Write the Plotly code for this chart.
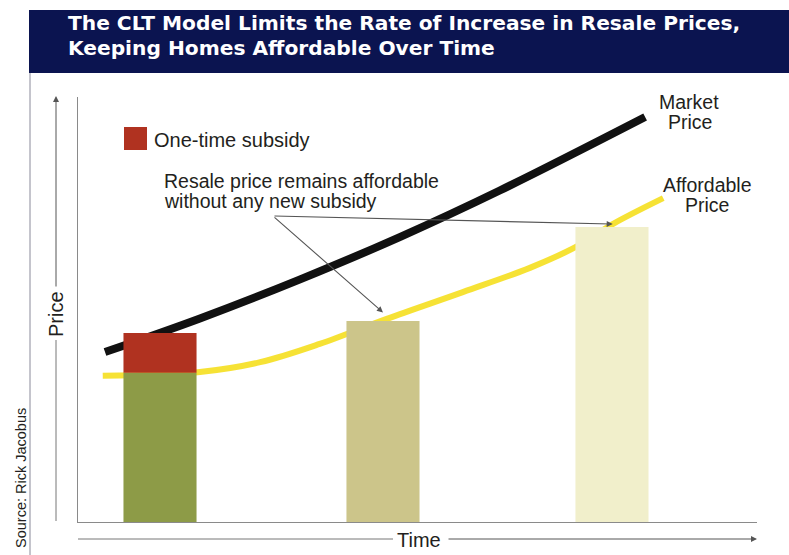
import plotly.graph_objects as go

# ---------------- data ----------------
bar_time = [1, 3.96, 7]
bar_value = [35.1, 47.3, 69.4]
bar_colors = ["#8d9b47", "#ccc58a", "#f1efcb"]
subsidy_time = [1]
subsidy_base = [35.1]
subsidy_value = [9.4]

market_time = [0.27, 1.53, 2.86, 4.19, 5.51, 7.44]
market_price = [40.0, 47.9, 57.1, 67.1, 78.0, 95.3]

afford_time = [0.24, 1.53, 2.33, 3.12, 4.01, 5.02, 5.91, 6.54, 7.01, 7.68]
afford_price = [34.4, 35.3, 37.6, 41.9, 47.8, 54.1, 59.8, 64.9, 70.1, 76.2]

title_lines = ["The CLT Model Limits the Rate of Increase in Resale Prices,",
               "Keeping Homes Affordable Over Time"]
note_lines = ["Resale price remains affordable", "without any new subsidy"]

# ---------------- layout geometry ----------------
W, H = 789, 555
L, R, T, B = 78, 32, 97, 33
PW, PH = W - L - R, H - T - B
XR = [-0.0886, 8.925]
YR = [0, 100]


def px(x):
    return (x - L) / PW


def py(y):
    return (H - B - y) / PH


FONT = "Liberation Sans, Arial, sans-serif"
TFONT = "DejaVu Sans, Liberation Sans, sans-serif"
TXT = "#231f20"
LBL = 19.5

fig = go.Figure()

# lines (drawn beneath the bars)
fig.add_trace(go.Scatter(x=afford_time, y=afford_price, mode="lines",
                         line=dict(color="#f6e02a", width=6, shape="spline", smoothing=1.0),
                         opacity=0.95, hoverinfo="skip", showlegend=False))
fig.add_trace(go.Scatter(x=market_time, y=market_price, mode="lines",
                         line=dict(color="#111111", width=8, shape="spline", smoothing=1.0),
                         hoverinfo="skip", showlegend=False))

# bars on an overlaying axis pair so they sit above the lines
fig.add_trace(go.Bar(x=bar_time, y=bar_value, width=0.97, marker=dict(color=bar_colors, line=dict(width=0)),
                     xaxis="x2", yaxis="y2", hoverinfo="skip", showlegend=False))
fig.add_trace(go.Bar(x=subsidy_time, y=subsidy_value, base=subsidy_base, width=0.97,
                     marker=dict(color="#b03220", line=dict(width=0)),
                     xaxis="x2", yaxis="y2", hoverinfo="skip", showlegend=False))

ax_common = dict(showgrid=False, zeroline=False, showticklabels=False, ticks="")
fig.update_layout(
    width=W, height=H,
    margin=dict(l=L, r=R, t=T, b=B, pad=0),
    paper_bgcolor="white", plot_bgcolor="white",
    barmode="overlay",
    showlegend=False,
    hovermode=False,
    xaxis=dict(range=XR, showline=True, linecolor="#8a8a8a", linewidth=1, **ax_common),
    yaxis=dict(range=YR, showline=True, linecolor="#8a8a8a", linewidth=1, **ax_common),
    xaxis2=dict(range=XR, overlaying="x", visible=False, **ax_common),
    yaxis2=dict(range=YR, overlaying="y", visible=False, **ax_common),
    font=dict(family=FONT, color=TXT, size=20),
)

shapes = []
# title banner
shapes.append(dict(type="rect", xref="paper", yref="paper", x0=px(29), x1=px(789), y0=py(73), y1=py(10),
                   fillcolor="#0b1450", line=dict(width=0), layer="above"))
# left border line
shapes.append(dict(type="line", xref="paper", yref="paper", x0=px(30), x1=px(30), y0=py(73), y1=py(555),
                   line=dict(color="#8a8a9a", width=1)))
# price axis lower segment
shapes.append(dict(type="line", xref="paper", yref="paper", x0=px(56), x1=px(56), y0=py(340), y1=py(521),
                   line=dict(color="#777777", width=1)))
# time axis left segment
shapes.append(dict(type="line", xref="paper", yref="paper", x0=px(78), x1=px(393), y0=py(539), y1=py(539),
                   line=dict(color="#777777", width=1)))
# legend swatch
shapes.append(dict(type="rect", xref="paper", yref="paper", x0=px(124), x1=px(147), y0=py(150), y1=py(127),
                   fillcolor="#b03220", line=dict(width=0)))
fig.update_layout(shapes=shapes)

ann = []
# title
for line, yc in zip(title_lines, [22.5, 47.5]):
    ann.append(dict(text=line, xref="paper", yref="paper", x=px(66), y=py(yc), xanchor="left", yanchor="middle",
                    showarrow=False, font=dict(family=TFONT, size=20.2, color="white", weight="bold")))
# legend text
ann.append(dict(text="One-time subsidy", xref="paper", yref="paper", x=px(152), y=py(139.5),
                xanchor="left", yanchor="middle", showarrow=False))
# note text
for line, yc in zip(note_lines, [181, 201]):
    ann.append(dict(text=line, xref="paper", yref="paper", x=px(162), y=py(yc),
                    xanchor="left", yanchor="middle", showarrow=False, font=dict(size=LBL)))
# series labels
for t, xc, yc in [("Market", 689, 102), ("Price", 690, 122), ("Affordable", 707, 185), ("Price", 707, 205)]:
    ann.append(dict(text=t, xref="paper", yref="paper", x=px(xc), y=py(yc),
                    xanchor="center", yanchor="middle", showarrow=False, font=dict(size=LBL)))
# axis labels
ann.append(dict(text="Time", xref="paper", yref="paper", x=px(419), y=py(539.5),
                xanchor="center", yanchor="middle", showarrow=False))
ann.append(dict(text="Price", xref="paper", yref="paper", x=px(56), y=py(314), textangle=-90,
                xanchor="center", yanchor="middle", showarrow=False))
ann.append(dict(text="Source: Rick Jacobus", xref="paper", yref="paper", x=px(21), y=py(478), textangle=-90,
                xanchor="center", yanchor="middle", showarrow=False, font=dict(size=14.5)))
# axis arrows
ann.append(dict(text="", xref="paper", yref="paper", x=px(56), y=py(96), ax=0, ay=192,
                showarrow=True, arrowhead=2, arrowsize=1.2, arrowwidth=1, arrowcolor="#555555"))
ann.append(dict(text="", xref="paper", yref="paper", x=px(757), y=py(539), ax=-310, ay=0,
                showarrow=True, arrowhead=2, arrowsize=1.2, arrowwidth=1, arrowcolor="#555555"))
# note arrows (tail at note, heads at bar 2 top and the affordable curve)
tail_t, tail_p = 2.5, 72.0
ann.append(dict(text="", x=bar_time[1], y=bar_value[1] + 2.0, xref="x", yref="y", axref="x", ayref="y",
                ax=tail_t, ay=tail_p, showarrow=True, arrowhead=2, arrowsize=1.1, arrowwidth=1.1,
                arrowcolor="#555555"))
ann.append(dict(text="", x=afford_time[8], y=afford_price[8], xref="x", yref="y", axref="x", ayref="y",
                ax=tail_t, ay=tail_p, showarrow=True, arrowhead=2, arrowsize=1.1, arrowwidth=1.1,
                arrowcolor="#555555"))
fig.update_layout(annotations=ann)

fig.write_html("out.html",
               config={"displayModeBar": False, "staticPlot": True},
               post_script="document.body.style.margin='0';document.body.style.overflow='hidden';")
